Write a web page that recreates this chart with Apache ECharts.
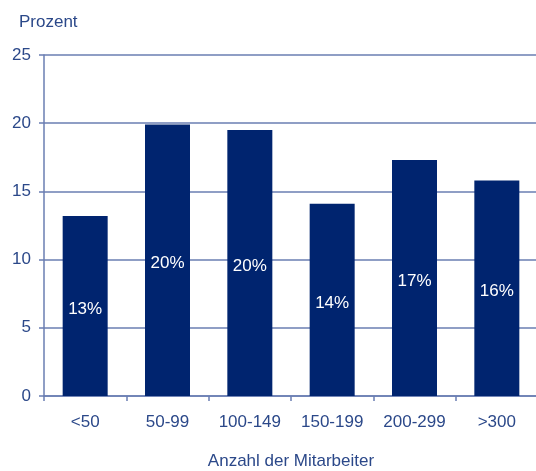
<!DOCTYPE html>
<html>
<head>
<meta charset="utf-8">
<script src="https://cdn.jsdelivr.net/npm/echarts@6/dist/echarts.min.js"></script>
<style>
  html, body { margin: 0; padding: 0; background: #fff; }
  #chart { width: 536px; height: 471px; }
</style>
</head>
<body>
<div id="chart"></div>
<script>
// Share of companies by workforce size (percent)
const categories = ['<50', '50-99', '100-149', '150-199', '200-299', '>300'];
const shares = [13.2, 19.9, 19.5, 14.1, 17.3, 15.8];
const yTicks = [0, 5, 10, 15, 20, 25];

const textColor = '#2b4889';
const lineColor = '#6a7eb2';
const barColor = '#00246f';
const font = 'Liberation Sans, Arial, sans-serif';

const chart = echarts.init(document.getElementById('chart'));
chart.setOption({
  animation: false,
  title: {
    text: 'Prozent',
    left: 14,
    top: 9,
    textStyle: { color: textColor, fontFamily: font, fontSize: 17, fontWeight: 'normal' }
  },
  grid: {
    left: 44, top: 55, width: 494, height: 341,
    containLabel: false,
    outerBoundsMode: 'none'
  },
  xAxis: {
    type: 'category',
    data: categories,
    name: 'Anzahl der Mitarbeiter',
    nameLocation: 'middle',
    nameGap: 57,
    nameTextStyle: { color: textColor, fontFamily: font, fontSize: 17, verticalAlign: 'top' },
    axisLine: { lineStyle: { color: lineColor, width: 1.5 } },
    axisTick: { show: true, length: 5, lineStyle: { color: lineColor, width: 1.5 } },
    axisLabel: { color: textColor, fontFamily: font, fontSize: 17, margin: 18 }
  },
  yAxis: {
    type: 'value',
    min: yTicks[0],
    max: yTicks[yTicks.length - 1],
    interval: yTicks[1] - yTicks[0],
    axisLine: { show: true, lineStyle: { color: lineColor, width: 1.5 } },
    axisTick: { show: true, length: 5, lineStyle: { color: lineColor, width: 1.5 } },
    axisLabel: { color: textColor, fontFamily: font, fontSize: 17, margin: 13 },
    splitLine: { show: true, lineStyle: { color: lineColor, width: 1.5 } }
  },
  series: [{
    type: 'bar',
    data: shares,
    barWidth: 45,
    itemStyle: { color: barColor },
    label: {
      show: true,
      position: 'inside',
      offset: [0, 3],
      color: '#ffffff',
      fontFamily: font,
      fontSize: 17,
      formatter: p => Math.round(p.value) + '%'
    }
  }]
});
</script>
</body>
</html>
